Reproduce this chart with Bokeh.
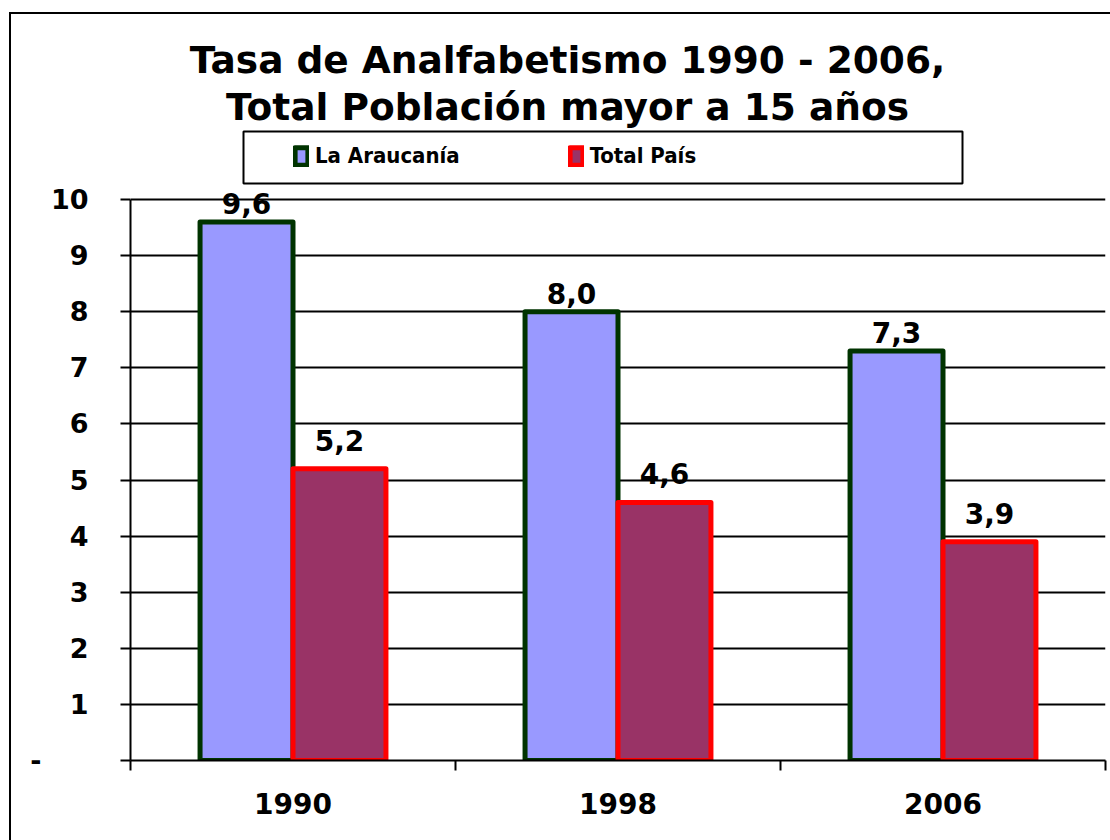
from bokeh.plotting import figure
from bokeh.models import (Range1d, FixedTicker, ColumnDataSource, LabelSet, Label,
                          BoxAnnotation, Legend, LegendItem)
from bokeh.core.properties import value
from bokeh.transform import dodge
from bokeh.embed import file_html
from bokeh.resources import INLINE

# ---- data ----
years = ["1990", "1998", "2006"]
araucania = [9.6, 8.0, 7.3]
total_pais = [5.2, 4.6, 3.9]
series_names = ["La Araucanía", "Total País"]
y_ticks = [0, 1, 2, 3, 4, 5, 6, 7, 8, 9, 10]
y_max = 10
title_lines = ["Tasa de Analfabetismo 1990 - 2006,", "Total Población mayor a 15 años"]


def fmt(v):
    return f"{v:.1f}".replace(".", ",")


# category slots: centre of slot i is i + 0.5 on a 0..n axis
slot_centres = [i + 0.5 for i in range(len(years))]
slot_edges = list(range(len(years) + 1))

src = ColumnDataSource(dict(
    xpos=slot_centres,
    year=years,
    ara=araucania,
    tot=total_pais,
    ara_lbl=[fmt(v) for v in araucania],
    tot_lbl=[fmt(v) for v in total_pais],
))

FONT = "DejaVu Sans"
LEGEND_FONT = "'DejaVu Sans Condensed', 'DejaVu Sans'"
W, H = 1110, 840
FRAME_BOTTOM = 760      # canvas px of value 0
FRAME_TOP_VAL = 199     # canvas px of value 10
# the frame reaches up to the top of the canvas so that titles/legend are not clipped
y_top = y_max * FRAME_BOTTOM / (FRAME_BOTTOM - FRAME_TOP_VAL)

p = figure(width=W, height=H, x_range=Range1d(0, len(years)), y_range=Range1d(0, y_top),
           output_backend="svg", toolbar_location=None,
           min_border_left=130, min_border_right=5, min_border_top=0,
           min_border_bottom=H - FRAME_BOTTOM)
p.outline_line_color = None
p.background_fill_color = None
p.border_fill_color = None
# outer chart frame (left and top edges; the rest lies outside the picture)
p.styles = {
    "background": "linear-gradient(#000, #000) 9px 12px / 2px 100% no-repeat, "
                  "linear-gradient(#000, #000) 9px 12px / 100% 2px no-repeat, #fff",
}
p.xgrid.grid_line_color = None
p.ygrid.grid_line_color = "black"
p.ygrid.grid_line_width = 2

yaxis = p.yaxis[0]
yaxis.ticker = FixedTicker(ticks=y_ticks)
yaxis.bounds = (0, y_max)
yaxis.major_label_overrides = {0: "-" + "\u00a0" * 5}
yaxis.axis_line_color = "black"
yaxis.axis_line_width = 2
yaxis.major_tick_line_color = "black"
yaxis.major_tick_line_width = 2
yaxis.major_tick_out = 10
yaxis.major_tick_in = 0
yaxis.minor_tick_line_color = None
yaxis.major_label_standoff = 32
yaxis.major_label_text_font = FONT
yaxis.major_label_text_font_style = "bold"
yaxis.major_label_text_font_size = "27px"
yaxis.major_label_text_color = "black"

xaxis = p.xaxis[0]
xaxis.ticker = FixedTicker(ticks=slot_centres, minor_ticks=slot_edges)
xaxis.major_label_overrides = {c: y for c, y in zip(slot_centres, years)}
xaxis.axis_line_color = "black"
xaxis.axis_line_width = 2
xaxis.major_tick_line_color = None
xaxis.major_tick_out = 0
xaxis.major_tick_in = 0
xaxis.minor_tick_line_color = "black"
xaxis.minor_tick_line_width = 2
xaxis.minor_tick_out = 10
xaxis.minor_tick_in = 0
xaxis.major_label_standoff = 22
xaxis.major_label_text_font = FONT
xaxis.major_label_text_font_style = "bold"
xaxis.major_label_text_font_size = "28px"
xaxis.major_label_text_color = "black"

bw = 0.286
r1 = p.vbar(x=dodge("xpos", -bw / 2), top="ara", width=bw, source=src,
            fill_color="#9999FF", line_color="#003300", line_width=5, line_join="round")
r2 = p.vbar(x=dodge("xpos", bw / 2), top="tot", width=bw, source=src,
            fill_color="#993366", line_color="#FF0000", line_width=5, line_join="round")

lbl_kw = dict(text_align="center", text_baseline="alphabetic", text_font=value(FONT),
              text_font_style="bold", text_font_size="28px", text_color="black")
p.add_layout(LabelSet(x=dodge("xpos", -bw / 2), y="ara", text="ara_lbl",
                      source=src, y_offset=8, **lbl_kw))
p.add_layout(LabelSet(x=dodge("xpos", bw / 2), y="tot", text="tot_lbl",
                      source=src, y_offset=18, **lbl_kw))

legend = Legend(items=[LegendItem(label=series_names[0], renderers=[r1]),
                       LegendItem(label=series_names[1], renderers=[r2])],
                location=(163, 592), orientation="horizontal",
                border_line_color=None, background_fill_alpha=0,
                padding=0, margin=0, spacing=108,
                glyph_width=16, glyph_height=22, label_standoff=6, label_height=24,
                label_text_font=LEGEND_FONT, label_text_font_style="bold",
                label_text_font_size="22px", label_text_color="black")
p.add_layout(legend, "center")

# legend box
p.add_layout(BoxAnnotation(left=243, right=962, top=131, bottom=183,
                           left_units="canvas", right_units="canvas",
                           top_units="canvas", bottom_units="canvas",
                           fill_color=None, fill_alpha=0, line_color="black",
                           line_alpha=1.0, line_width=2, line_dash="solid"))

for i, line in enumerate(title_lines):
    p.add_layout(Label(x=567, y=59 + 47 * i, x_units="canvas", y_units="canvas", text=line,
                       text_align="center", text_baseline="alphabetic", text_font=FONT,
                       text_font_style="bold", text_font_size="37.5px", text_color="black"))

open("out.html", "w").write(file_html(p, INLINE))
